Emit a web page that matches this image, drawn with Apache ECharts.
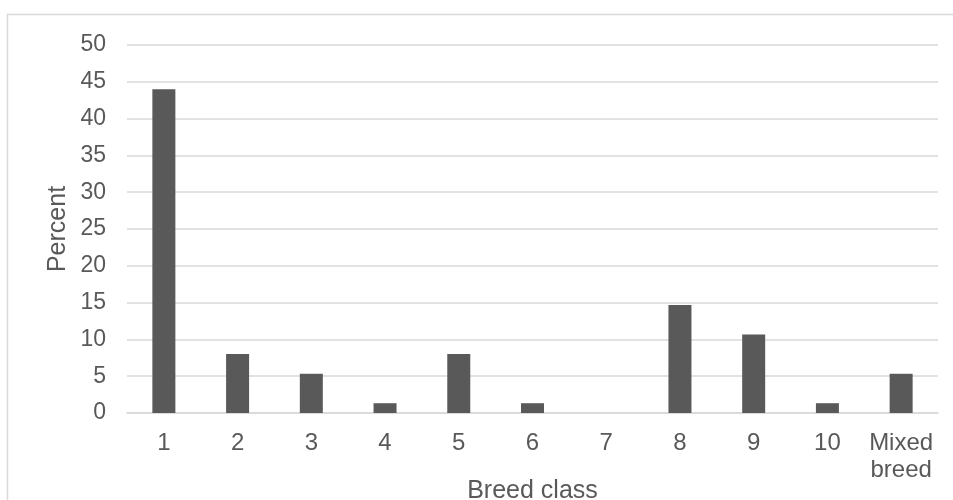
<!DOCTYPE html>
<html>
<head>
<meta charset="utf-8">
<script src="https://cdn.jsdelivr.net/npm/echarts@6/dist/echarts.min.js"></script>
<style>
  html, body { margin: 0; padding: 0; background: #fff; }
  #chart { width: 953px; height: 500px; }
</style>
</head>
<body>
<div id="chart"></div>
<script>
// Breed class distribution (percent of animals)
const categories = ['1', '2', '3', '4', '5', '6', '7', '8', '9', '10', 'Mixed\nbreed'];
const percentValues = [44, 8, 5.33, 1.33, 8, 1.33, 0, 14.67, 10.67, 1.33, 5.33];
const yTicks = { min: 0, max: 50, interval: 5 };

const textColor = '#595959';
const fontFamily = '"Liberation Sans", Arial, sans-serif';

const chart = echarts.init(document.getElementById('chart'), null, { renderer: 'canvas' });
chart.setOption({
  animation: false,
  backgroundColor: '#ffffff',
  graphic: [{
    type: 'rect',
    shape: { x: 7.5, y: 14.5, width: 1000, height: 600 },
    style: { fill: 'none', stroke: '#d9d9d9', lineWidth: 1.5 },
    silent: true
  }],
  grid: { left: 127, right: 15, top: 45, bottom: 87, containLabel: false, outerBoundsMode: 'none' },
  xAxis: {
    type: 'category',
    data: categories,
    name: 'Breed class',
    nameLocation: 'middle',
    nameGap: 66,
    nameMoveOverlap: false,
    nameTextStyle: { color: textColor, fontSize: 25, fontFamily: fontFamily },
    axisLine: { show: true, lineStyle: { color: '#d9d9d9', width: 1.5 } },
    axisTick: { show: false },
    axisLabel: { color: textColor, fontSize: 24, fontFamily: fontFamily, margin: 17, lineHeight: 27, interval: 0 }
  },
  yAxis: {
    type: 'value',
    min: yTicks.min,
    max: yTicks.max,
    interval: yTicks.interval,
    name: 'Percent',
    nameLocation: 'middle',
    nameGap: 56,
    nameMoveOverlap: false,
    nameTextStyle: { color: textColor, fontSize: 25, fontFamily: fontFamily },
    axisLine: { show: false },
    axisTick: { show: false },
    splitLine: { lineStyle: { color: '#d9d9d9', width: 1.5 } },
    axisLabel: { color: textColor, fontSize: 23, fontFamily: fontFamily, margin: 21 }
  },
  series: [{
    type: 'bar',
    data: percentValues,
    barWidth: 23,
    itemStyle: { color: '#595959' }
  }]
});
</script>
</body>
</html>
